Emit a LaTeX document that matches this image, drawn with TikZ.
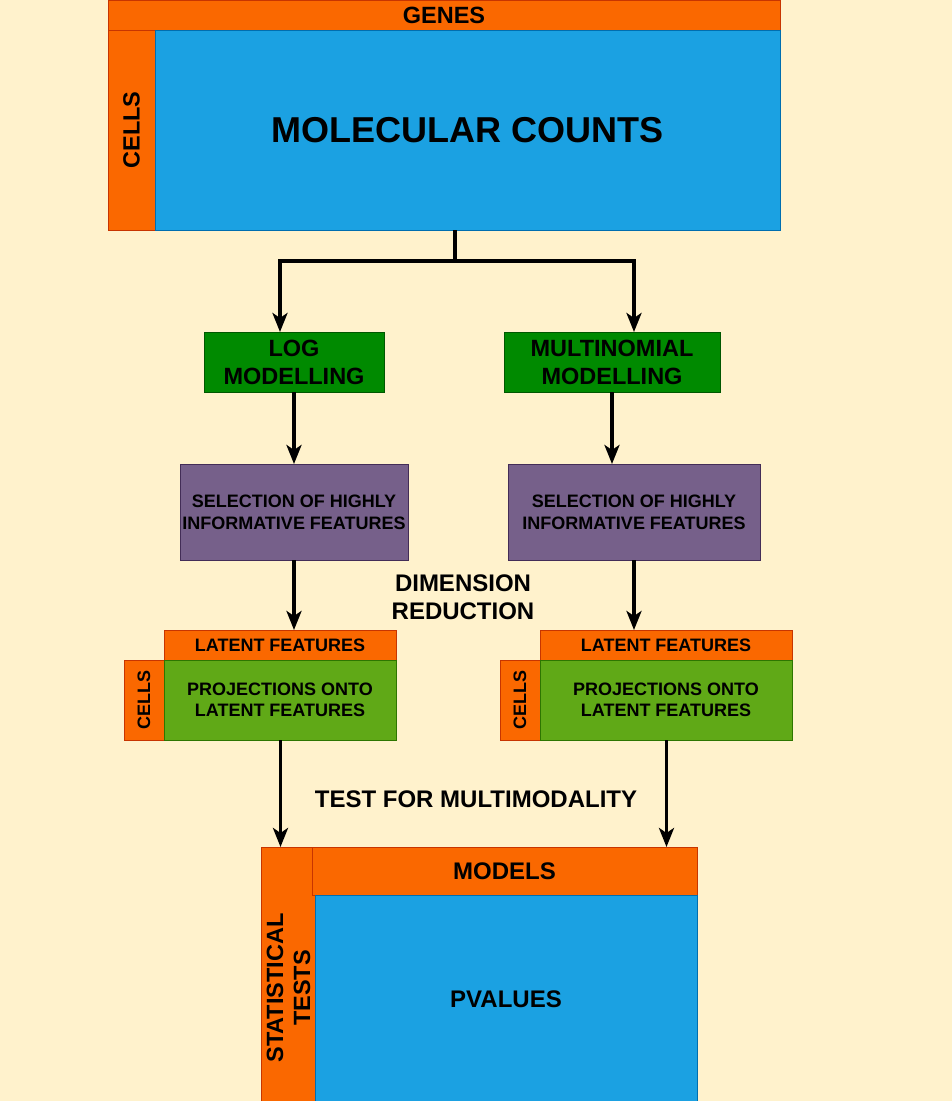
\documentclass[tikz,border=0pt]{standalone}
\usepackage{fontspec}
\setmainfont{Liberation Sans}
\usetikzlibrary{arrows.meta}
\definecolor{bgyellow}{HTML}{FFF2CC}
\definecolor{orangef}{HTML}{FA6800}
\definecolor{oranged}{HTML}{C73500}
\definecolor{bluef}{HTML}{1BA1E2}
\definecolor{blued}{HTML}{006EAF}
\definecolor{greenf}{HTML}{008A00}
\definecolor{greend}{HTML}{005700}
\definecolor{purplef}{HTML}{76608A}
\definecolor{purpled}{HTML}{432D57}
\definecolor{limef}{HTML}{60A917}
\definecolor{limed}{HTML}{2D7600}
\tikzset{
  box/.style={draw, line width=0.8pt, inner sep=0pt, outer sep=0pt, align=center, font=\bfseries},
  orangebox/.style={box, fill=orangef, draw=oranged},
  bluebox/.style={box, fill=bluef, draw=blued},
  greenbox/.style={box, fill=greenf, draw=greend},
  purplebox/.style={box, fill=purplef, draw=purpled},
  limebox/.style={box, fill=limef, draw=limed},
  flow/.style={line width=3.8pt, -{Stealth[length=19pt,width=15pt,inset=5pt]}},
  caption/.style={font=\bfseries, align=center, inner sep=0pt}
}
\begin{document}
\begin{tikzpicture}[x=1pt,y=-1pt]
  \fill[bgyellow] (0,0) rectangle (952,1101);
  \useasboundingbox (0,0) rectangle (952,1101);

  % count matrix
  \node[orangebox, minimum width=672pt, minimum height=30pt, anchor=north west, font=\fontsize{23.5}{26}\bfseries] (genes) at (108,0) {GENES};
  \node[orangebox, minimum width=47pt, minimum height=200pt, anchor=north west] (cells) at (108,30) {};
  \node[rotate=90, font=\fontsize{23.5}{26}\bfseries, inner sep=0pt] (cellslbl) at (cells.center) {CELLS};
  \node[bluebox, minimum width=625pt, minimum height=200pt, anchor=north west, font=\fontsize{36}{40}\bfseries] (counts) at (155,30) {MOLECULAR COUNTS};

  % modelling
  \node[greenbox, minimum width=180pt, minimum height=60pt, anchor=north west, font=\fontsize{23.5}{28}\bfseries] (logm) at (204,332) {LOG\\MODELLING};
  \node[greenbox, minimum width=216pt, minimum height=60pt, anchor=north west, font=\fontsize{23.5}{28}\bfseries] (multm) at (504,332) {MULTINOMIAL\\MODELLING};

  % feature selection
  \node[purplebox, minimum width=228pt, minimum height=96pt, anchor=north west, font=\fontsize{18}{22}\bfseries] (selL) at (180,464) {SELECTION OF HIGHLY\\INFORMATIVE FEATURES};
  \node[purplebox, minimum width=252pt, minimum height=96pt, anchor=north west, font=\fontsize{18}{22}\bfseries] (selR) at (508,464) {SELECTION OF HIGHLY\\INFORMATIVE FEATURES};

  \node[caption, font=\fontsize{24}{28}\bfseries] (dimred) at (463,597) {DIMENSION\\REDUCTION};

  % latent projections, left
  \node[orangebox, minimum width=232pt, minimum height=30pt, anchor=north west, font=\fontsize{18}{20}\bfseries] (latL) at (164,630) {LATENT FEATURES};
  \node[orangebox, minimum width=40pt, minimum height=80pt, anchor=north west] (cellsL) at (124,660) {};
  \node[rotate=90, font=\fontsize{18}{20}\bfseries, inner sep=0pt] (cellsLlbl) at (cellsL.center) {CELLS};
  \node[limebox, minimum width=232pt, minimum height=80pt, anchor=north west, font=\fontsize{18}{21}\bfseries] (projL) at (164,660) {PROJECTIONS ONTO\\LATENT FEATURES};

  % latent projections, right
  \node[orangebox, minimum width=252pt, minimum height=30pt, anchor=north west, font=\fontsize{18}{20}\bfseries] (latR) at (540,630) {LATENT FEATURES};
  \node[orangebox, minimum width=40pt, minimum height=80pt, anchor=north west] (cellsR) at (500,660) {};
  \node[rotate=90, font=\fontsize{18}{20}\bfseries, inner sep=0pt] (cellsRlbl) at (cellsR.center) {CELLS};
  \node[limebox, minimum width=252pt, minimum height=80pt, anchor=north west, font=\fontsize{18}{21}\bfseries] (projR) at (540,660) {PROJECTIONS ONTO\\LATENT FEATURES};

  \node[caption, font=\fontsize{24}{28}\bfseries] (mmtest) at (476,799) {TEST FOR MULTIMODALITY};

  % p-value table
  \node[orangebox, minimum width=54pt, minimum height=256pt, anchor=north west] (stats) at (261,847) {};
  \node[rotate=90, font=\fontsize{23.5}{27}\bfseries, inner sep=0pt, align=center] (statslbl) at (288.5,988) {STATISTICAL\\TESTS};
  \node[orangebox, minimum width=385pt, minimum height=48pt, anchor=north west, font=\fontsize{24}{26}\bfseries] (models) at (312,847) {MODELS};
  \node[bluebox, minimum width=382pt, minimum height=208pt, anchor=north west, font=\fontsize{24}{26}\bfseries] (pvals) at (315,895) {PVALUES};

  % connectors
  \coordinate (split) at ([yshift=-31pt]counts.south -| 455,0);
  \draw[line width=3.8pt] (counts.south -| 455,0) -- (split);
  \draw[flow] (split) -| ([xshift=-14pt]logm.north);
  \draw[flow] (split) -| ([xshift=22pt]multm.north);
  \draw[flow] (logm.south) -- (selL.north);
  \draw[flow] (multm.south) -- (multm.south |- selR.north);
  \draw[flow] (selL.south) -- (selL.south |- latL.north);
  \draw[flow] (selR.south) -- (selR.south |- latR.north);
  \draw[flow] (projL.south -| 280.5,0) -- (stats.north -| 280.5,0);
  \draw[flow] (projR.south -| 666.5,0) -- (models.north -| 666.5,0);
\end{tikzpicture}
\end{document}
